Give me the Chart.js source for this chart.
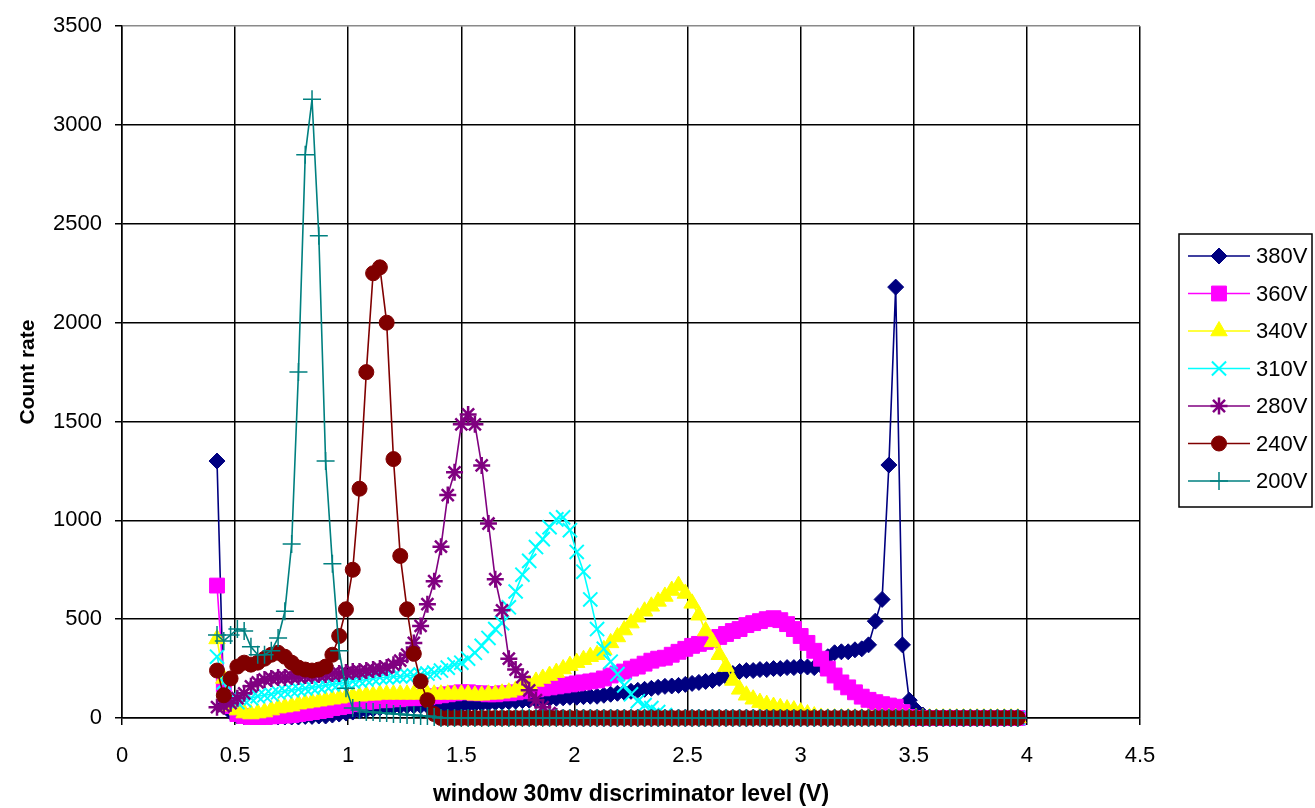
<!DOCTYPE html>
<html><head><meta charset="utf-8">
<script src="https://cdn.jsdelivr.net/npm/chart.js@4.4.1/dist/chart.umd.min.js"></script>
<style>html,body{margin:0;padding:0;background:#fff;overflow:hidden}</style>
</head><body>
<canvas id="c" width="1315" height="808"></canvas>
<script>
// discriminator levels (V)
const xLevels = [
0.42,0.45,0.48,0.51,0.54,0.57,0.60,0.63,0.66,0.69,
0.72,0.75,0.78,0.81,0.84,0.87,0.90,0.93,0.96,0.99,
1.02,1.05,1.08,1.11,1.14,1.17,1.20,1.23,1.26,1.29,
1.32,1.35,1.38,1.41,1.44,1.47,1.50,1.53,1.56,1.59,
1.62,1.65,1.68,1.71,1.74,1.77,1.80,1.83,1.86,1.89,
1.92,1.95,1.98,2.01,2.04,2.07,2.10,2.13,2.16,2.19,
2.22,2.25,2.28,2.31,2.34,2.37,2.40,2.43,2.46,2.49,
2.52,2.55,2.58,2.61,2.64,2.67,2.70,2.73,2.76,2.79,
2.82,2.85,2.88,2.91,2.94,2.97,3.00,3.03,3.06,3.09,
3.12,3.15,3.18,3.21,3.24,3.27,3.30,3.33,3.36,3.39,
3.42,3.45,3.48,3.51,3.54,3.57,3.60,3.63,3.66,3.69,
3.72,3.75,3.78,3.81,3.84,3.87,3.90,3.93,3.96];

const seriesNames = ['380V','360V','340V','310V','280V','240V','200V'];

const v380 = [
1300,60,30,10,5,5,5,5,5,5,
5,5,5,8,8,10,10,15,20,25,
30,35,40,45,50,55,58,60,62,62,
62,62,60,60,60,62,65,68,70,72,
75,78,80,82,85,88,90,92,95,98,
100,102,105,105,108,110,110,115,120,125,
130,135,140,145,150,155,160,162,165,170,
175,180,185,190,200,210,225,235,240,240,
245,245,250,250,255,255,260,258,255,265,
310,330,335,335,345,350,370,490,600,1280,
2180,370,90,40,15,5,0,0,0,0,
0,0,0,0,0,0,0,0,0];

const v360 = [
670,170,60,20,10,5,5,5,8,10,
12,15,20,25,30,35,40,50,55,60,
70,75,80,85,90,90,95,95,100,100,
105,105,110,115,120,125,130,130,125,125,
120,120,125,125,130,135,140,145,150,155,
160,165,170,175,180,185,190,200,215,225,
235,250,260,275,290,300,305,320,335,350,
365,375,385,395,410,425,440,450,470,480,
490,500,505,495,475,450,415,380,340,300,
250,215,180,155,130,108,92,80,70,63,
57,30,5,0,0,0,0,0,0,0,
0,0,0,0,0,0,0,0,0];

const v340 = [
400,200,60,40,25,20,25,30,40,50,
55,60,70,75,80,85,90,95,100,105,
110,110,115,115,120,120,120,120,120,120,
120,120,120,120,120,120,120,120,115,115,
120,120,125,130,140,155,170,185,200,215,
230,248,265,280,295,310,320,345,380,410,
445,480,510,540,565,590,615,645,670,630,
580,520,440,385,320,260,190,145,115,95,
78,68,58,52,45,40,30,20,10,3,
0,0,0,0,0,0,0,0,0,0,
0,0,0,0,0,0,0,0,0,0,
0,0,0,0,0,0,0,0,0];

const v310 = [
310,180,100,80,90,100,110,115,120,130,
135,140,145,150,155,160,165,170,175,180,
185,190,195,200,205,205,210,210,215,215,
220,225,230,240,255,270,280,300,330,365,
405,450,480,560,640,725,795,865,905,965,
1005,1015,950,840,740,600,450,350,285,222,
165,120,85,65,50,30,15,5,0,0,
0,0,0,0,0,0,0,0,0,0,
0,0,0,0,0,0,0,0,0,0,
0,0,0,0,0,0,0,0,0,0,
0,0,0,0,0,0,0,0,0,0,
0,0,0,0,0,0,0,0,0];

const v280 = [
55,60,75,100,125,160,180,195,200,205,
205,210,210,215,215,220,220,225,225,230,
235,235,240,245,250,255,270,290,320,380,
466,576,692,867,1128,1243,1486,1536,1486,1278,
984,702,545,300,245,207,140,90,55,25,
8,0,0,0,0,0,0,0,0,0,
0,0,0,0,0,0,0,0,0,0,
0,0,0,0,0,0,0,0,0,0,
0,0,0,0,0,0,0,0,0,0,
0,0,0,0,0,0,0,0,0,0,
0,0,0,0,0,0,0,0,0,0,
0,0,0,0,0,0,0,0,0];

const v240 = [
240,115,200,260,280,270,280,300,320,330,
310,280,255,245,240,245,260,320,415,550,
750,1160,1750,2250,2280,2000,1310,820,550,325,
186,90,20,0,0,0,0,0,0,0,
0,0,0,0,0,0,0,0,0,0,
0,0,0,0,0,0,0,0,0,0,
0,0,0,0,0,0,0,0,0,0,
0,0,0,0,0,0,0,0,0,0,
0,0,0,0,0,0,0,0,0,0,
0,0,0,0,0,0,0,0,0,0,
0,0,0,0,0,0,0,0,0,0,
0,0,0,0,0,0,0,0,0];

const v200 = [
420,390,420,450,440,360,320,320,340,405,
540,880,1750,2850,3130,2440,1300,780,340,150,
50,40,30,30,25,25,20,20,15,15,
10,10,5,0,0,0,0,0,0,0,
0,0,0,0,0,0,0,0,0,0,
0,0,0,0,0,0,0,0,0,0,
0,0,0,0,0,0,0,0,0,0,
0,0,0,0,0,0,0,0,0,0,
0,0,0,0,0,0,0,0,0,0,
0,0,0,0,0,0,0,0,0,0,
0,0,0,0,0,0,0,0,0,0,
0,0,0,0,0,0,0,0,0];

const xTickValues = [0,0.5,1,1.5,2,2.5,3,3.5,4,4.5];
const xTickLabels = ['0','0.5','1','1.5','2','2.5','3','3.5','4','4.5'];
const yTickValues = [0,500,1000,1500,2000,2500,3000,3500];
const yTickLabels = ['0','500','1000','1500','2000','2500','3000','3500'];
const xTitle = 'window 30mv discriminator level (V)';
const yTitle = 'Count rate';

const FONT = '"Liberation Sans", Arial, sans-serif';
const seriesValues = [v380, v360, v340, v310, v280, v240, v200];
const styles = [
  {color:'#000080', point:'rectRot', r:8, bw:1},
  {color:'#FF00FF', point:'rect', r:10.5, bw:1},
  {color:'#FFFF00', point:'triangle', r:9.5, bw:1},
  {color:'#00FFFF', point:'crossRot', r:10, bw:2},
  {color:'#800080', point:'star', r:8.5, bw:2.5},
  {color:'#800000', point:'circle', r:7.5, bw:1},
  {color:'#008080', point:'cross', r:9, bw:1.5}
];

const datasets = seriesNames.map((name, k) => ({
  label: name,
  data: xLevels.map((x, i) => ({x: x, y: seriesValues[k][i]})),
  showLine: true,
  borderColor: styles[k].color,
  backgroundColor: styles[k].color,
  borderWidth: 1.6,
  pointStyle: styles[k].point,
  pointRadius: styles[k].r,
  pointBorderWidth: styles[k].bw,
  pointBackgroundColor: styles[k].color,
  pointBorderColor: styles[k].color,
  tension: 0,
  clip: false,
  order: seriesNames.length - k
}));

function drawMarker(ctx, st, x, y) {
  ctx.save();
  ctx.fillStyle = st.color; ctx.strokeStyle = st.color; ctx.lineWidth = st.bw;
  if (Chart.helpers && Chart.helpers.drawPoint) {
    Chart.helpers.drawPoint(ctx, {pointStyle: st.point, radius: st.r, borderWidth: st.bw, rotation: 0}, x, y);
  }
  ctx.restore();
}

const boxLegend = {
  id: 'boxLegend',
  afterDraw(chart) {
    const ctx = chart.ctx;
    const L = 1179, T = 234, R = 1312, B = 507;
    ctx.save();
    ctx.fillStyle = '#fff';
    ctx.fillRect(L, T, R - L, B - T);
    ctx.strokeStyle = '#000'; ctx.lineWidth = 1.5;
    ctx.strokeRect(L, T, R - L, B - T);
    seriesNames.forEach((name, k) => {
      const y = 256 + k * 37.5;
      ctx.strokeStyle = styles[k].color; ctx.lineWidth = 1.6;
      ctx.beginPath(); ctx.moveTo(1188, y); ctx.lineTo(1250, y); ctx.stroke();
      drawMarker(ctx, styles[k], 1219, y);
      ctx.fillStyle = '#000';
      ctx.font = '22px ' + FONT;
      ctx.textAlign = 'left'; ctx.textBaseline = 'middle';
      ctx.fillText(name, 1256, y + 1);
    });
    ctx.restore();
  }
};

new Chart(document.getElementById('c'), {
  type: 'scatter',
  data: { datasets },
  plugins: [boxLegend],
  options: {
    responsive: false,
    animation: false,
    events: [],
    layout: { padding: { top: 20, right: 175, bottom: 0, left: 0 } },
    plugins: { legend: { display: false }, tooltip: { enabled: false } },
    scales: {
      x: {
        type: 'linear', position: 'bottom', min: 0, max: 4.5,
        afterBuildTicks: (s) => { s.ticks = xTickValues.map(v => ({value: v})); },
        afterFit: (s) => { s.height = 90; },
        ticks: {
          callback: (v) => { const i = xTickValues.indexOf(v); return i >= 0 ? xTickLabels[i] : ''; },
          color: '#000', font: { family: FONT, size: 22 }, padding: 18, maxRotation: 0, autoSkip: false
        },
        grid: { color: '#000', lineWidth: 1.5, tickLength: 7, tickColor: '#000', drawTicks: true },
        border: { color: '#000', width: 1.5 },
        title: { display: true, text: xTitle, color: '#000',
          font: { family: FONT, size: 23, weight: 'bold', lineHeight: 1 }, padding: { top: 0, bottom: 1.5 } }
      },
      y: {
        type: 'linear', min: 0, max: 3500,
        afterBuildTicks: (s) => { s.ticks = yTickValues.map(v => ({value: v})); },
        afterFit: (s) => { s.width = 122; },
        ticks: {
          callback: (v) => { const i = yTickValues.indexOf(v); return i >= 0 ? yTickLabels[i] : ''; },
          color: '#000', font: { family: FONT, size: 22 }, padding: 13, autoSkip: false
        },
        grid: { color: (c) => (c.tick && c.tick.value === 3500) ? '#8a8a8a' : '#000', lineWidth: 1.5, tickLength: 7, tickColor: '#000' },
        border: { color: '#000', width: 1.5 },
        title: { display: true, text: yTitle, color: '#000',
          font: { family: FONT, size: 21, weight: 'bold', lineHeight: 1 }, padding: { top: 17.5, bottom: 0 } }
      }
    }
  }
});
</script>
</body></html>
